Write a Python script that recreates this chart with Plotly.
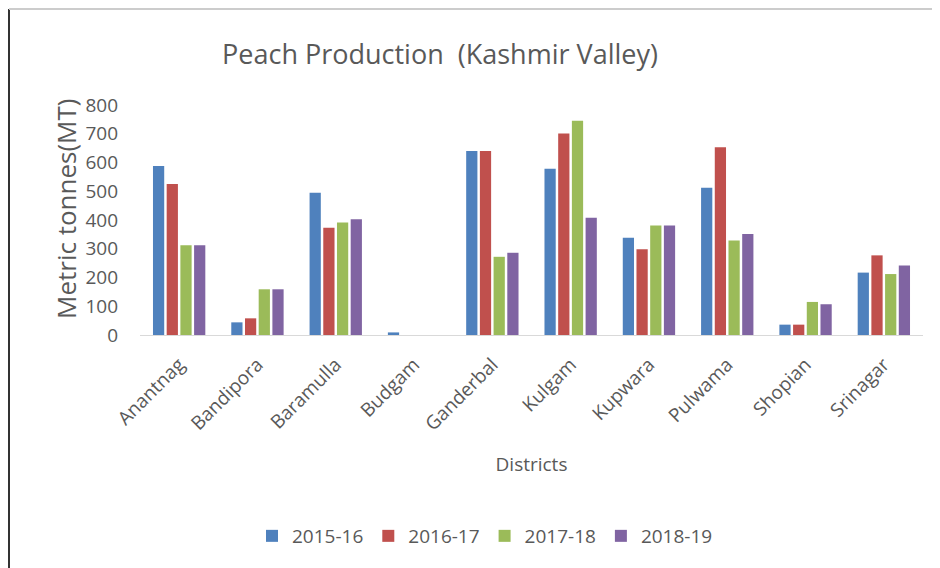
import plotly.graph_objects as go

districts = ["Anantnag", "Bandipora", "Baramulla", "Budgam", "Ganderbal",
             "Kulgam", "Kupwara", "Pulwama", "Shopian", "Srinagar"]
years = ["2015-16", "2016-17", "2017-18", "2018-19"]
v_2015_16 = [588, 44, 495, 9, 640, 578, 338, 512, 36, 217]
v_2016_17 = [525, 58, 373, 0, 640, 701, 298, 653, 36, 277]
v_2017_18 = [312, 159, 391, 0, 272, 745, 381, 329, 115, 212]
v_2018_19 = [312, 159, 403, 0, 286, 408, 381, 351, 107, 242]
y_ticks = [0, 100, 200, 300, 400, 500, 600, 700, 800]

series = [v_2015_16, v_2016_17, v_2017_18, v_2018_19]
colors = ["#4F81BD", "#C0504D", "#9BBB59", "#8064A2"]

FONT = "Open Sans"
TXT = "#595959"

fig = go.Figure()
for name, vals, c in zip(years, series, colors):
    fig.add_trace(go.Bar(name=name, x=districts, y=vals, marker_color=c,
                         marker_line_width=0))

OFF = 8  # page body margin
W, H = 940 - OFF, 568 - OFF
L, R, T, B = 140 - OFF, 17, 105 - OFF, 233

def px_x(x):
    return (x - OFF - L) / (W - L - R)

def px_y(y):
    return (H - B - (y - OFF)) / (H - T - B)

fig.update_layout(
    width=W, height=H,
    margin=dict(l=L, r=R, t=T, b=B),
    paper_bgcolor="white", plot_bgcolor="white",
    barmode="group", bargap=0.3, bargroupgap=0.18,
    font=dict(family=FONT, color=TXT, size=15),
    title=dict(text="Peach Production  (Kashmir Valley)",
               x=(440 - OFF) / W, xanchor="center", y=1 - (55 - OFF) / H,
               yanchor="middle",
               font=dict(size=27, color=TXT, family=FONT)),
    showlegend=True,
    legend=dict(orientation="h", x=px_x(485), xanchor="center",
                y=px_y(536), yanchor="middle",
                font=dict(size=19, color=TXT, family=FONT),
                itemwidth=30, traceorder="normal"),
    xaxis=dict(tickangle=-45, showline=True, linecolor="#D9D9D9", linewidth=1,
               ticks="", tickfont=dict(size=19, color=TXT),
               ticklabelstandoff=10,
               title=dict(text="Districts", font=dict(size=19, color=TXT),
                          standoff=22)),
    yaxis=dict(range=[0, 800], tickvals=y_ticks, showgrid=False,
               zeroline=False, ticks="", tickfont=dict(size=19, color=TXT),
               ticklabelstandoff=21),
    annotations=[
        dict(text="Metric tonnes(MT)", textangle=-90, showarrow=False,
             xref="paper", yref="paper", x=px_x(66), y=px_y(209),
             xanchor="center", yanchor="middle",
             font=dict(size=26, color=TXT, family=FONT)),
    ],
    shapes=[
        dict(type="line", xref="paper", yref="paper",
             x0=px_x(9), x1=px_x(9), y0=px_y(9), y1=px_y(575),
             line=dict(color="#333333", width=2)),
        dict(type="line", xref="paper", yref="paper",
             x0=px_x(9), x1=px_x(945), y0=px_y(9), y1=px_y(9),
             line=dict(color="#CCCCCC", width=2)),
    ],
)

fig.write_html("out.html")
